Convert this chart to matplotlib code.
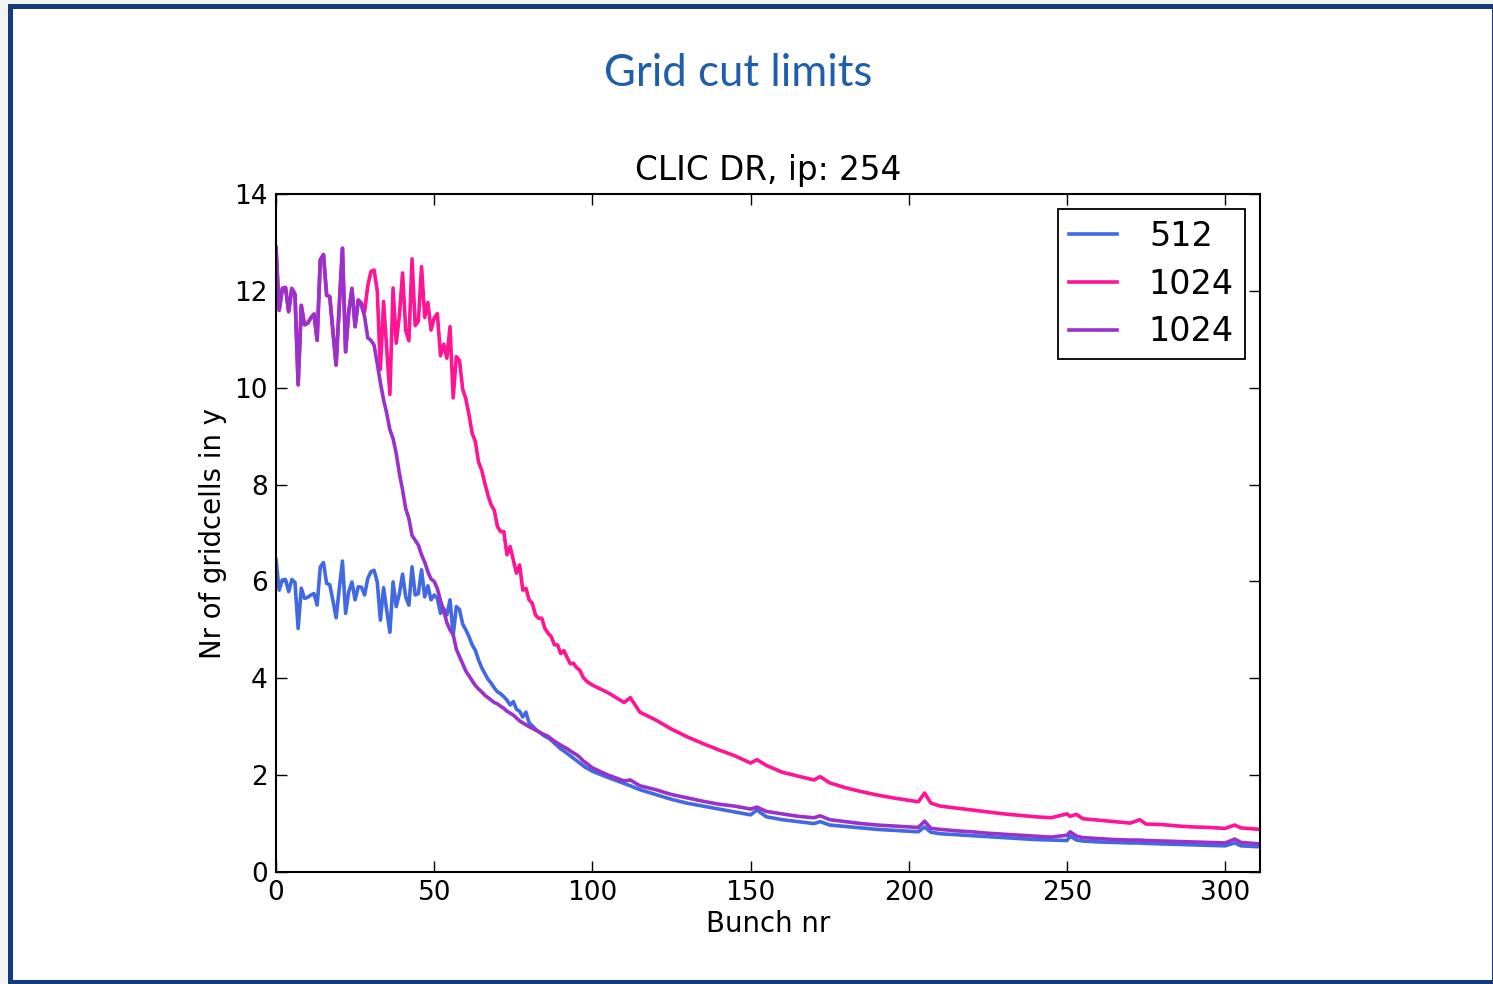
import matplotlib
matplotlib.use("Agg")
import matplotlib.pyplot as plt
from matplotlib.patches import Rectangle

# bunch numbers: every bunch up to 99, then sampled with the visible bumps
bunch_head = list(range(0, 100))
bunch_tail = [100, 105, 110, 112, 115, 120, 125, 130, 135, 140, 145, 150, 152, 155,
              160, 165, 170, 172, 175, 180, 185, 190, 195, 200, 203, 205, 207, 210,
              215, 220, 225, 230, 235, 240, 245, 250, 251, 253, 255, 260, 265, 270,
              273, 275, 280, 285, 290, 295, 300, 303, 305, 311]
bunch = bunch_head + bunch_tail

cells_512 = [
    6.45, 5.82, 6.03, 6.04, 5.79, 6.04, 5.98, 5.03, 5.86, 5.65,
    5.67, 5.72, 5.75, 5.51, 6.30, 6.39, 5.96, 5.93, 5.60, 5.25,
    5.85, 6.42, 5.34, 5.79, 5.99, 5.62, 5.89, 5.88, 5.72, 6.06,
    6.20, 6.23, 5.99, 5.20, 5.87, 5.40, 4.95, 5.99, 5.48, 5.75,
    6.15, 5.68, 5.51, 6.30, 5.72, 5.75, 6.24, 5.68, 5.91, 5.62,
    5.72, 5.65, 5.34, 5.44, 5.31, 5.62, 4.89, 5.48, 5.42, 5.12,
    5.00, 4.86, 4.69, 4.58, 4.38, 4.22, 4.10, 3.98, 3.90, 3.80,
    3.72, 3.68, 3.62, 3.55, 3.45, 3.52, 3.36, 3.32, 3.20, 3.30,
    3.08, 3.02, 2.95, 2.90, 2.85, 2.80, 2.77, 2.72, 2.66, 2.60,
    2.54, 2.50, 2.45, 2.40, 2.35, 2.30, 2.25, 2.20, 2.15, 2.12,
    2.08, 1.95, 1.83, 1.78, 1.70, 1.60, 1.50, 1.42, 1.36, 1.30,
    1.24, 1.18, 1.28, 1.14, 1.08, 1.04, 1.00, 1.04, 0.97, 0.94,
    0.91, 0.88, 0.86, 0.84, 0.83, 0.93, 0.82, 0.79, 0.77, 0.75,
    0.73, 0.71, 0.69, 0.67, 0.66, 0.65, 0.74, 0.66, 0.64, 0.62,
    0.61, 0.60, 0.60, 0.59, 0.58, 0.57, 0.56, 0.55, 0.54, 0.60,
    0.54, 0.52]

cells_1024_a = [
    12.90, 11.60, 12.05, 12.07, 11.57, 12.05, 11.93, 10.06, 11.70, 11.30,
    11.33, 11.44, 11.52, 10.98, 12.64, 12.75, 11.91, 11.88, 11.16, 10.47,
    11.70, 12.88, 10.74, 11.57, 12.05, 11.26, 11.81, 11.75, 11.57, 12.10,
    12.40, 12.43, 12.00, 10.38, 11.78, 10.80, 9.86, 12.06, 10.92, 11.50,
    12.37, 11.19, 10.97, 12.66, 11.28, 11.38, 12.50, 11.45, 11.76, 11.19,
    11.44, 11.53, 10.66, 10.90, 10.61, 11.26, 9.79, 10.64, 10.56, 9.97,
    9.77, 9.44, 9.06, 8.89, 8.47, 8.30, 8.03, 7.78, 7.58, 7.47,
    7.13, 7.03, 7.03, 6.55, 6.72, 6.44, 6.17, 6.34, 5.82, 5.86,
    5.62, 5.55, 5.31, 5.24, 5.24, 5.03, 4.93, 4.86, 4.69, 4.69,
    4.51, 4.57, 4.43, 4.30, 4.31, 4.22, 4.17, 4.03, 3.95, 3.90,
    3.86, 3.70, 3.50, 3.60, 3.30, 3.14, 2.95, 2.79, 2.65, 2.52,
    2.40, 2.25, 2.32, 2.20, 2.06, 1.98, 1.90, 1.97, 1.84, 1.74,
    1.66, 1.59, 1.53, 1.48, 1.45, 1.63, 1.42, 1.36, 1.32, 1.28,
    1.24, 1.20, 1.17, 1.14, 1.12, 1.20, 1.15, 1.19, 1.10, 1.07,
    1.04, 1.01, 1.08, 0.99, 0.98, 0.95, 0.93, 0.92, 0.90, 0.97,
    0.91, 0.88]

cells_1024_b = [
    12.90, 11.60, 12.05, 12.07, 11.57, 12.05, 11.93, 10.06, 11.70, 11.30,
    11.33, 11.44, 11.52, 10.98, 12.64, 12.75, 11.91, 11.88, 11.16, 10.47,
    11.70, 12.88, 10.74, 11.57, 12.05, 11.26, 11.81, 11.70, 11.47, 11.03,
    10.98, 10.88, 10.50, 10.10, 9.75, 9.47, 9.13, 8.95, 8.64, 8.23,
    7.89, 7.50, 7.30, 6.95, 6.85, 6.75, 6.55, 6.40, 6.20, 6.05,
    6.00, 5.85, 5.60, 5.40, 5.15, 5.00, 4.90, 4.60, 4.45, 4.30,
    4.15, 4.05, 3.95, 3.85, 3.78, 3.72, 3.65, 3.60, 3.55, 3.50,
    3.47, 3.42, 3.38, 3.32, 3.28, 3.24, 3.18, 3.12, 3.08, 3.04,
    3.00, 2.97, 2.93, 2.90, 2.86, 2.83, 2.80, 2.75, 2.70, 2.66,
    2.62, 2.58, 2.55, 2.50, 2.46, 2.42, 2.37, 2.30, 2.25, 2.20,
    2.15, 2.00, 1.88, 1.90, 1.78, 1.70, 1.60, 1.53, 1.46, 1.40,
    1.36, 1.30, 1.34, 1.25, 1.20, 1.15, 1.12, 1.16, 1.08, 1.04,
    1.00, 0.97, 0.95, 0.93, 0.92, 1.05, 0.90, 0.88, 0.85, 0.83,
    0.80, 0.78, 0.76, 0.74, 0.72, 0.76, 0.83, 0.74, 0.71, 0.69,
    0.67, 0.66, 0.66, 0.65, 0.64, 0.63, 0.62, 0.61, 0.60, 0.68,
    0.61, 0.58]

labels = ["512", "1024", "1024"]
colors = ["#4169E1", "#FF1493", "#9932CC"]

plt.rcParams.update({
    "font.family": "DejaVu Sans",
    "xtick.direction": "in",
    "ytick.direction": "in",
    "xtick.top": True,
    "ytick.right": True,
})

fig = plt.figure(figsize=(14.93, 9.84), dpi=100)
fig.patch.set_facecolor("#f3f3f3")

# slide frame (behind the axes)
W, H = 1493.0, 984.0
frame = Rectangle((9.5 / W, 2.5 / H), (1494 - 9.5) / W, (981.5 - 5.5) / H,
                  transform=fig.transFigure, facecolor="white",
                  edgecolor="#123a7c", linewidth=3.6, zorder=-10)
fig.patches.append(frame)

fig.text(738 / W, 1 - 74 / H, "Grid cut limits", ha="center", va="center",
         fontsize=31.5, color="#1f5ea8", family="Lato")

ax = fig.add_axes([276 / W, 1 - 872 / H, (1260 - 276) / W, (872 - 194) / H])

ax.plot(bunch, cells_512, color=colors[0], linewidth=2.6, label=labels[0])
ax.plot(bunch, cells_1024_a, color=colors[1], linewidth=2.6, label=labels[1])
ax.plot(bunch, cells_1024_b, color=colors[2], linewidth=2.6, label=labels[2])

ax.set_xlim(0, 311)
ax.set_ylim(0, 14)
ax.set_xticks([0, 50, 100, 150, 200, 250, 300])
ax.set_yticks([0, 2, 4, 6, 8, 10, 12, 14])
ax.tick_params(axis="both", which="major", labelsize=19, length=8, width=1, pad=6)
for s in ax.spines.values():
    s.set_linewidth(1.5)

ax.set_title("CLIC DR, ip: 254", fontsize=23.5, pad=10)
ax.set_xlabel("Bunch nr", fontsize=19.8, labelpad=3)
ax.set_ylabel("Nr of gridcells in y", fontsize=19.8, labelpad=5)

leg = ax.legend(loc="upper right", bbox_to_anchor=(1, 1), borderaxespad=0.45,
                fontsize=24, fancybox=False, framealpha=1, edgecolor="black",
                handlelength=1.45, handletextpad=0.95, borderpad=0.33,
                labelspacing=0.44)
leg.get_frame().set_linewidth(1.3)

fig.savefig("out.png", dpi=100, facecolor=fig.get_facecolor())
